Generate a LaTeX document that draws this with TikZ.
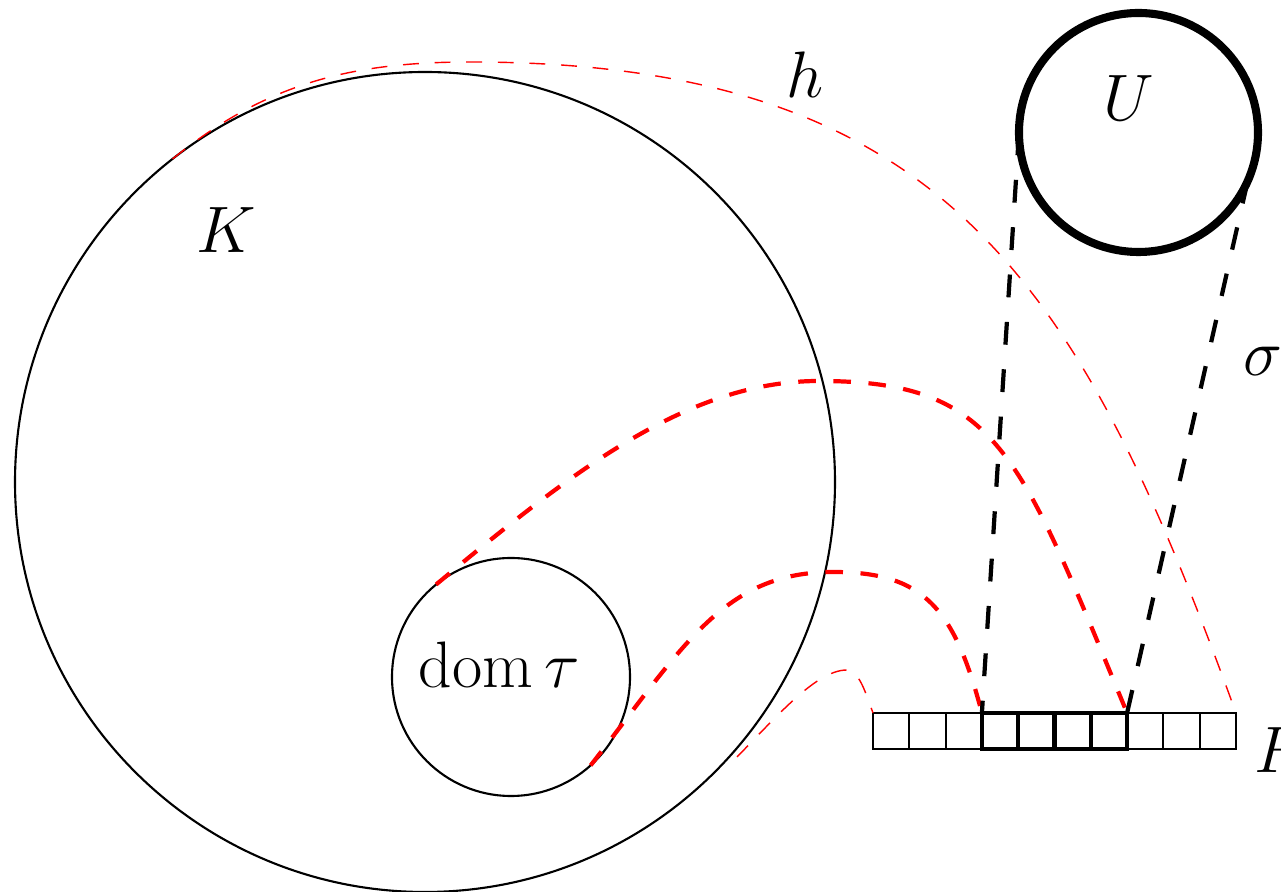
\RequirePackage{fix-cm}
\documentclass[tikz,border=0pt]{standalone}
\usepackage{amsmath}
\begin{document}
\begin{tikzpicture}[
    x=1cm,
    y=1cm,
    font=\fontsize{18.7}{22}\selectfont,
    disc/.style={circle,draw,line width=0.6pt,inner sep=0pt,outer sep=0pt},
    cell/.style={draw,line width=0.6pt,minimum width=0.363cm,
      minimum height=0.36cm,inner sep=0pt,outer sep=0pt},
    boldcell/.style={cell,line width=1.2pt},
    proj/.style={line width=1.2pt,dash pattern=on 6.5pt off 7pt},
    redthin/.style={red,line width=0.4pt,dash pattern=on 4.5pt off 4.5pt},
    redthick/.style={red,line width=1.2pt,dash pattern=on 5pt off 5pt}
  ]
    \useasboundingbox (0,0) rectangle (12.81,8.92);

    \node[disc,minimum size=8.20cm] (K) at (4.25,4.10) {};
    \node[disc,minimum size=2.38cm] (dom) at (5.11,2.15) {};
    \node[disc,line width=2.3pt,minimum size=2.39cm] (U) at (11.385,7.595) {};

    \foreach \i in {1,2,3,8,9,10}
      \node[cell] (b\i) at ({8.73+0.363*(\i-0.5)},1.61) {};
    \foreach \i in {4,...,7}
      \node[boldcell] (b\i) at ({8.73+0.363*(\i-0.5)},1.61) {};

    \node (Klabel) at (2.26,6.62) {$K$};
    \node (domlabel) at (4.99,2.27) {$\operatorname{dom}\tau$};
    \node (Ulabel) at (11.29,7.94) {$U$};
    \node (hlabel) at (8.05,8.17) {$h$};
    \node (sigmalabel) at (12.63,5.31) {$\sigma$};
    \node (Flabel) at (12.80,1.42) {$F$};

    \coordinate (tail) at (7.37,1.35);

    \draw[redthin] (K.128)
      .. controls (2.65,8.08) and (3.50,8.30) .. (4.70,8.30)
      .. controls (9.50,8.30) and (10.82,6.02) .. (b10.north east);
    \draw[redthick] (dom.129)
      .. controls (5.75,4.23) and (6.89,5.11) .. (8.19,5.11)
      .. controls (9.99,5.11) and (10.19,4.39) .. (b7.north east);
    \draw[redthick] (dom.-48)
      .. controls (6.83,2.45) and (7.23,3.20) .. (8.33,3.20)
      .. controls (9.23,3.20) and (9.54,2.85) .. (b4.north west);
    \draw[redthin] (tail)
      .. controls (7.79,1.78) and (8.17,2.22) .. (8.47,2.22)
      .. controls (8.59,2.22) and (8.66,1.98) .. (b1.north west);

    \draw[proj] (U.180) -- (b4.north west);
    \draw[proj] (U.-24) -- (b7.north east);
  \end{tikzpicture}
\end{document}
